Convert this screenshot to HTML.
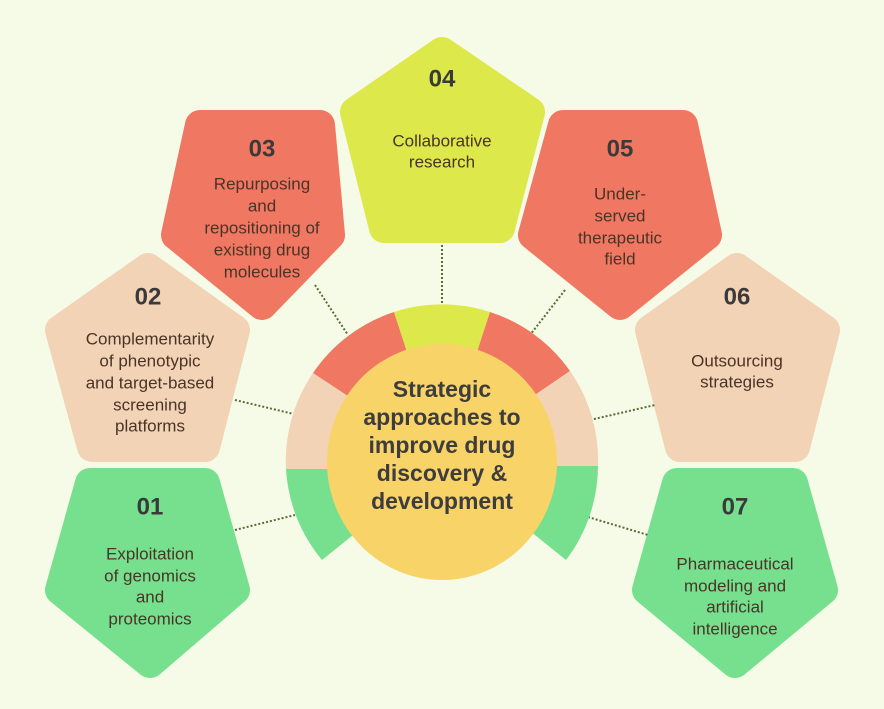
<!DOCTYPE html>
<html><head><meta charset="utf-8"><style>
html,body{margin:0;padding:0;background:#f5fbe6;}
svg{display:block;}
text{font-family:"Liberation Sans",sans-serif;text-anchor:middle;dominant-baseline:middle;}
.n{font-weight:bold;font-size:24px;fill:#3a3a3a;}
.b{font-size:17px;fill:#4a3428;}
.c{font-weight:bold;font-size:23px;fill:#3d3d3d;}
.d{stroke:#5a6b3a;stroke-width:2;stroke-dasharray:2 2;fill:none;}
</style></head><body>
<svg width="884" height="709" viewBox="0 0 884 709">
<rect width="884" height="709" fill="#f5fbe6"/>
<g stroke-linejoin="round" stroke-width="30">
<polygon fill="#dde84a" stroke="#dde84a" points="442,52 530,112 500,228 384,228 355,112"/>
<polygon fill="#f07762" stroke="#f07762" points="200,125 320,125 330,235 262,305 176,235"/>
<polygon fill="#f07762" stroke="#f07762" points="563,125 683,125 707,235 620,305 533,235"/>
<polygon fill="#f2d3b5" stroke="#f2d3b5" points="148,268 235,330 205,447 92,447 60,330"/>
<polygon fill="#f2d3b5" stroke="#f2d3b5" points="737,268 825,330 795,447 680,447 650,330"/>
<polygon fill="#76e08e" stroke="#76e08e" points="90,483 205,483 235,590 150,663 60,590"/>
<polygon fill="#76e08e" stroke="#76e08e" points="677,483 793,483 823,590 735,663 647,590"/>
</g>
<line class="d" x1="442" y1="245" x2="442" y2="305"/>
<line class="d" x1="315" y1="285" x2="348" y2="335"/>
<line class="d" x1="565" y1="290" x2="530" y2="335"/>
<line class="d" x1="235" y1="400" x2="298" y2="415"/>
<line class="d" x1="590" y1="420" x2="655" y2="405"/>
<line class="d" x1="235" y1="530" x2="295" y2="515"/>
<line class="d" x1="588" y1="517" x2="648" y2="535"/>
<g>
<path fill="#76e08e" d="M286,469 A156,156 0 0 0 322,560 L358,531 A110,110 0 0 1 332,469 Z"/>
<path fill="#f2d3b5" d="M286,469 A156,156 0 0 1 313,373 L351,398 A110,110 0 0 0 332,469 Z"/>
<path fill="#f07762" d="M313,373 A156,156 0 0 1 394,312 L408,355 A110,110 0 0 0 351,398 Z"/>
<path fill="#dde84a" d="M394,312 A156,156 0 0 1 490,312 L476,355 A110,110 0 0 0 408,355 Z"/>
<path fill="#f07762" d="M490,312 A156,156 0 0 1 570,371 L532,397 A110,110 0 0 0 476,355 Z"/>
<path fill="#f2d3b5" d="M570,371 A156,156 0 0 1 598,466 L552,466 A110,110 0 0 0 532,397 Z"/>
<path fill="#76e08e" d="M598,466 A156,156 0 0 1 566,560 L530,531 A110,110 0 0 0 552,466 Z"/>
</g>
<ellipse cx="442" cy="462" rx="115" ry="118" fill="#f8d468"/>
<text class="c" x="442" y="391">Strategic</text>
<text class="c" x="442" y="419">approaches to</text>
<text class="c" x="442" y="447">improve drug</text>
<text class="c" x="442" y="475">discovery &amp;</text>
<text class="c" x="442" y="503">development</text>

<text class="n" x="442" y="80">04</text>
<text class="b" x="442" y="142">Collaborative</text>
<text class="b" x="442" y="163">research</text>

<text class="n" x="262" y="150">03</text>
<text class="b" x="262" y="185">Repurposing</text>
<text class="b" x="262" y="207">and</text>
<text class="b" x="262" y="229">repositioning of</text>
<text class="b" x="262" y="251">existing drug</text>
<text class="b" x="262" y="273">molecules</text>

<text class="n" x="620" y="150">05</text>
<text class="b" x="620" y="195">Under-</text>
<text class="b" x="620" y="217">served</text>
<text class="b" x="620" y="239">therapeutic</text>
<text class="b" x="620" y="260">field</text>

<text class="n" x="148" y="298">02</text>
<text class="b" x="150" y="340">Complementarity</text>
<text class="b" x="150" y="362">of phenotypic</text>
<text class="b" x="150" y="384">and target-based</text>
<text class="b" x="150" y="406">screening</text>
<text class="b" x="150" y="427">platforms</text>

<text class="n" x="737" y="298">06</text>
<text class="b" x="737" y="362">Outsourcing</text>
<text class="b" x="737" y="383">strategies</text>

<text class="n" x="150" y="508">01</text>
<text class="b" x="150" y="555">Exploitation</text>
<text class="b" x="150" y="577">of genomics</text>
<text class="b" x="150" y="598">and</text>
<text class="b" x="150" y="620">proteomics</text>

<text class="n" x="735" y="508">07</text>
<text class="b" x="735" y="565">Pharmaceutical</text>
<text class="b" x="735" y="587">modeling and</text>
<text class="b" x="735" y="608">artificial</text>
<text class="b" x="735" y="630">intelligence</text>
</svg>
</body></html>
